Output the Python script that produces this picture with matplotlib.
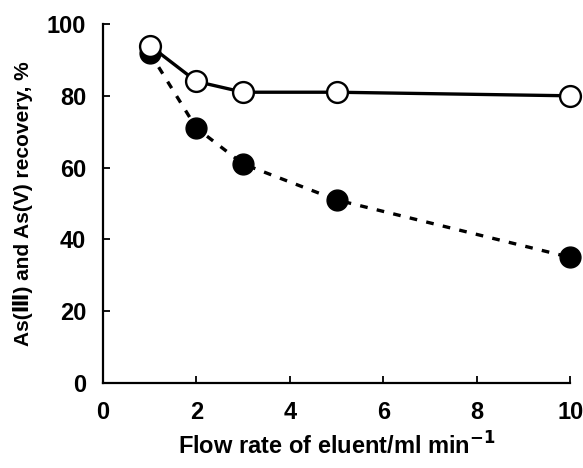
import matplotlib
matplotlib.use("Agg")
import matplotlib.pyplot as plt

# Flow rate (ml/min) and recovery (%)
flow = [1, 2, 3, 5, 10]
as_open = [94, 84, 81, 81, 80]     # open circles, solid line
as_filled = [92, 71, 61, 51, 35]   # filled circles, dashed line

plt.rcParams['font.family'] = ['Liberation Sans', 'DejaVu Sans']
plt.rcParams['font.weight'] = 'bold'
plt.rcParams['mathtext.default'] = 'bf'

fig = plt.figure(figsize=(5.83, 4.68), dpi=100)
ax = fig.add_axes([0.1767, 0.1816, 0.8013, 0.7671])

ax.plot(flow, as_filled, color='black', lw=2.4, ls=(0, (2.3, 2.8)),
        marker='o', ms=15, mfc='black', mec='black', clip_on=False, zorder=3)
ax.plot(flow, as_open, color='black', lw=2.4, ls='-',
        marker='o', ms=15, mfc='white', mec='black', mew=1.7, clip_on=False, zorder=4)

ax.set_xlim(0, 10)
ax.set_ylim(0, 100)
ax.set_xticks([0, 2, 4, 6, 8, 10])
ax.set_yticks([0, 20, 40, 60, 80, 100])
ax.spines['top'].set_visible(False)
ax.spines['right'].set_visible(False)
for s in ['left', 'bottom']:
    ax.spines[s].set_linewidth(1.6)
ax.tick_params(direction='in', length=5, width=1.3, labelsize=17)
ax.tick_params(axis='x', pad=13)
ax.tick_params(axis='y', pad=12)

label_font = ['Liberation Sans Narrow', 'Liberation Sans', 'DejaVu Sans']
ax.set_xlabel('Flow rate of eluent/ml min$^{-1}$', fontsize=17, fontweight='bold',
              family=label_font, labelpad=6)
ax.set_ylabel('As(\u2162) and As(V) recovery, %', fontsize=15, fontweight='bold',
              family=label_font, labelpad=10)

fig.savefig('out.png', dpi=100)
